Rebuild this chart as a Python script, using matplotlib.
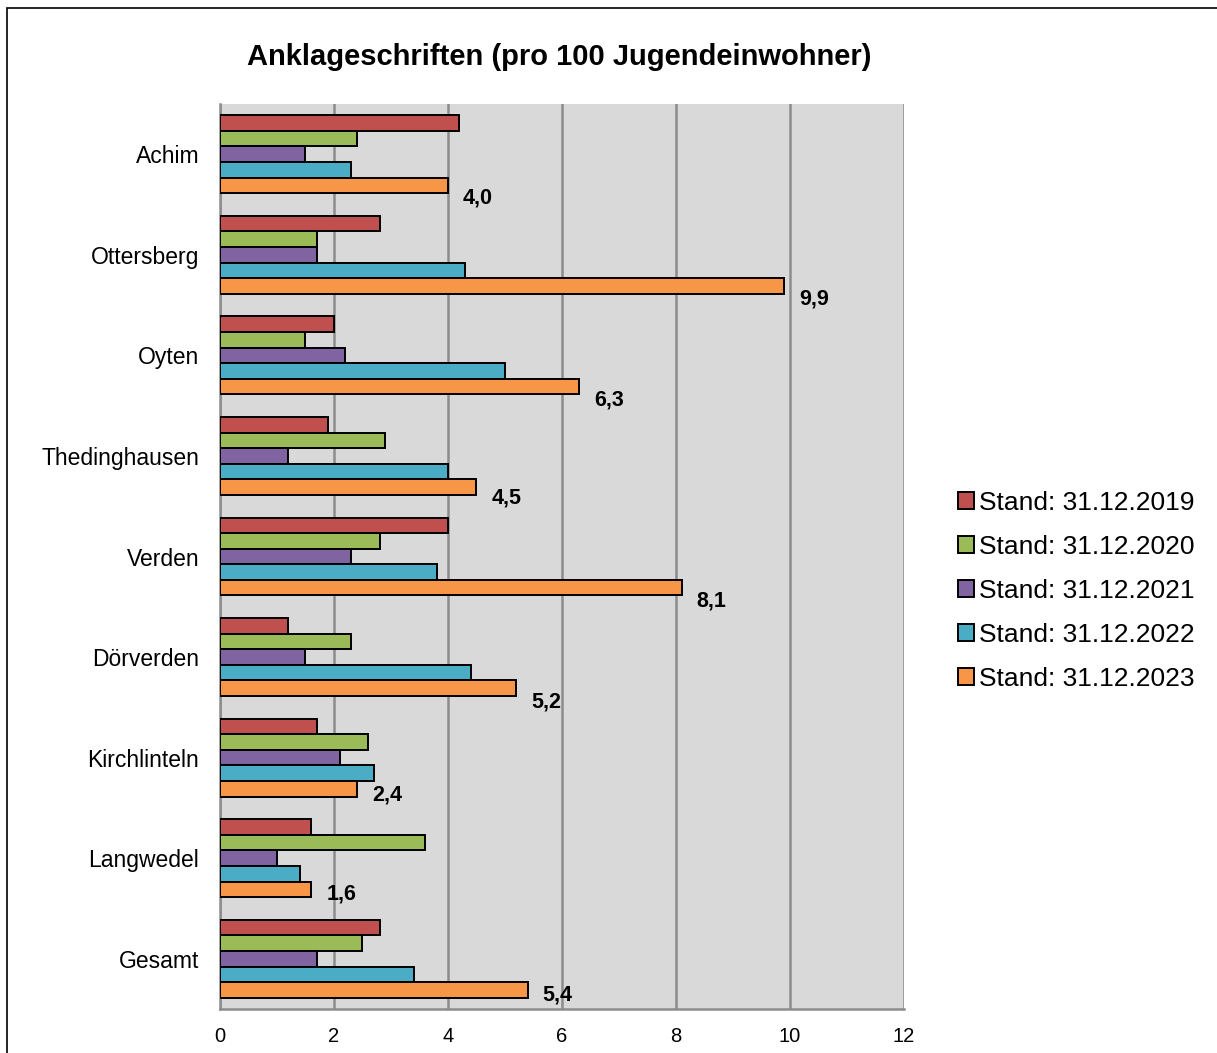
import matplotlib.pyplot as plt
from matplotlib.patches import Rectangle

plt.rcParams['font.family'] = ['Liberation Sans', 'DejaVu Sans']

# --- Data ---
orte = ["Achim", "Ottersberg", "Oyten", "Thedinghausen", "Verden",
        "Dörverden", "Kirchlinteln", "Langwedel", "Gesamt"]
serien = ["Stand: 31.12.2019", "Stand: 31.12.2020", "Stand: 31.12.2021",
          "Stand: 31.12.2022", "Stand: 31.12.2023"]
w2019 = [4.2, 2.8, 2.0, 1.9, 4.0, 1.2, 1.7, 1.6, 2.8]
w2020 = [2.4, 1.7, 1.5, 2.9, 2.8, 2.3, 2.6, 3.6, 2.5]
w2021 = [1.5, 1.7, 2.2, 1.2, 2.3, 1.5, 2.1, 1.0, 1.7]
w2022 = [2.3, 4.3, 5.0, 4.0, 3.8, 4.4, 2.7, 1.4, 3.4]
w2023 = [4.0, 9.9, 6.3, 4.5, 8.1, 5.2, 2.4, 1.6, 5.4]
werte = [w2019, w2020, w2021, w2022, w2023]
farben = ["#C0504D", "#9BBB59", "#8064A2", "#4BACC6", "#F79646"]
xticks = [0, 2, 4, 6, 8, 10, 12]

# vertical nudge (pixels) for the value labels
label_dy = [-13, -13, -13, -11, -13, -14, -6, -5, -5]

# --- Figure ---
W, H = 1217, 1053
fig = plt.figure(figsize=(W / 100, H / 100), dpi=100)
fig.patches.append(Rectangle((7 / W, -0.01), 1.0, 1 - 8 / H + 0.01,
                             transform=fig.transFigure, fill=False,
                             edgecolor="black", linewidth=1.2))

ax = fig.add_axes([220 / W, 1 - 1009 / H, (904 - 220) / W, (1009 - 104) / H])
ax.set_facecolor("#D9D9D9")

h = 0.155
for j, (name, vals, col) in enumerate(zip(serien, werte, farben)):
    ys = [i + (j - 2) * h for i in range(len(orte))]
    ax.barh(ys, vals, height=h, color=col, edgecolor="black",
            linewidth=1.4, label=name, zorder=3)

# value labels on the 2023 bars
for i, v in enumerate(w2023):
    ax.annotate(f"{v:.1f}".replace(".", ","), xy=(v, i + 2 * h),
                xytext=(15, label_dy[i]), textcoords="offset pixels",
                ha="left", va="center", fontsize=15.5, fontweight="bold",
                zorder=4)

ax.set_xlim(0, 12)
ax.set_ylim(len(orte) - 0.5, -0.5)
ax.set_xticks(xticks)
ax.set_xticklabels([str(t) for t in xticks], fontsize=14.5)
ax.set_yticks(range(len(orte)))
ax.set_yticklabels(orte, fontsize=16.5)
ax.tick_params(axis="y", length=0, pad=15)
ax.tick_params(axis="x", length=0, pad=13)
ax.xaxis.grid(True, color="#8C8C8C", linewidth=1.8, zorder=1)
ax.set_axisbelow(True)
for s in ["top", "right"]:
    ax.spines[s].set_visible(False)
for s in ["left", "bottom"]:
    ax.spines[s].set_color("#8C8C8C")
    ax.spines[s].set_linewidth(1.8)

fig.text(559 / W, 1 - 57 / H, "Anklageschriften (pro 100 Jugendeinwohner)",
         ha="center", va="center", fontsize=21, fontweight="bold")

fig.legend(loc="center left", bbox_to_anchor=(958 / W, 1 - 591 / H),
           frameon=False, fontsize=19, borderpad=0, borderaxespad=0,
           handlelength=0.6, handleheight=0.6, handletextpad=0.2,
           labelspacing=0.76)

fig.savefig("out.png", dpi=100)
